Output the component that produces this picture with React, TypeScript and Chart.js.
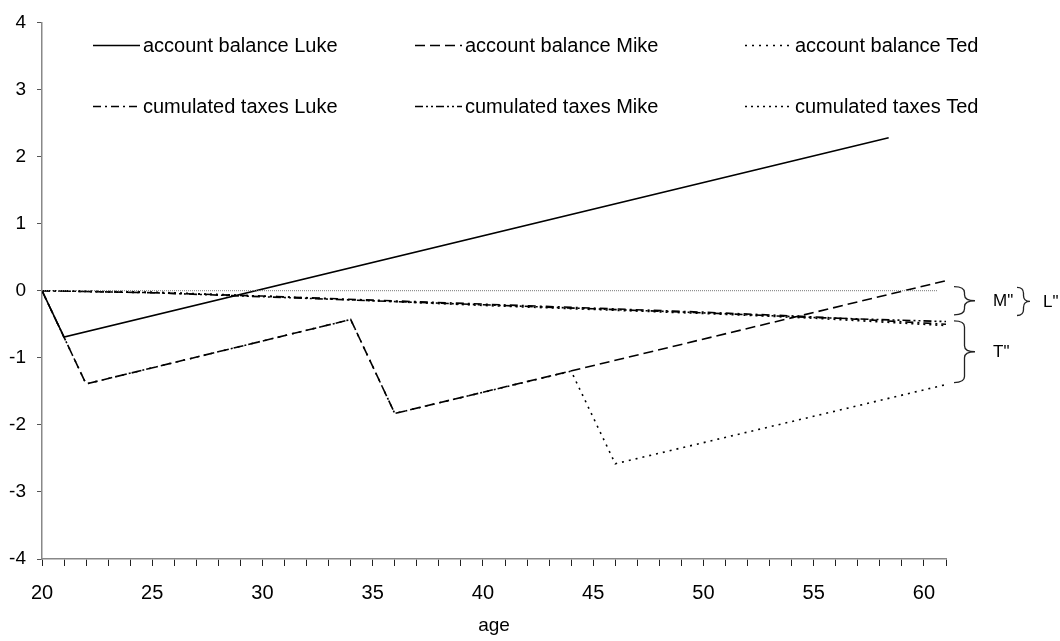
import React, { useEffect, useRef } from 'react';
import { Chart, registerables } from 'chart.js';

Chart.register(...registerables);

// ---- data ----
const lukeAges = [20, 21, 58.4];
const lukeBalance = [0, -0.69, 2.28];

const mikeAges = [20, 22, 34, 36, 61];
const mikeBalance = [0, -1.39, -0.43, -1.83, 0.15];

const tedAges = [20, 22, 34, 36, 44, 46, 61];
const tedBalance = [0, -1.39, -0.43, -1.83, -1.2, -2.58, -1.4];

const taxAges = [20, 25, 30, 35, 40, 45, 50, 55, 61];
const taxLuke = [0, -0.03, -0.08, -0.14, -0.2, -0.26, -0.32, -0.39, -0.5];
const taxMike = [0, -0.03, -0.09, -0.15, -0.21, -0.27, -0.33, -0.4, -0.46];
const taxTed = [0, -0.02, -0.08, -0.15, -0.22, -0.28, -0.34, -0.41, -0.52];

const zeroAges = [20, 60.6];
const zeroValues = [0, 0];

const xLabelAges = [20, 25, 30, 35, 40, 45, 50, 55, 60];

const seriesNames = [
  'account balance Luke',
  'account balance Mike',
  'account balance Ted',
  'cumulated taxes Luke',
  'cumulated taxes Mike',
  'cumulated taxes Ted',
];

const braceLabels = ['M"', 'L"', 'T"'];
const braceTop = [0.06, 0.05, -0.45];
const braceBottom = [-0.36, -0.37, -1.37];

const FONT = '"Liberation Sans", Arial, Helvetica, sans-serif';

const pts = (xs: number[], ys: number[]) => xs.map((x, i) => ({ x, y: ys[i] }));

const dashes: number[][] = [[], [10, 5], [2, 5], [8, 4, 2, 4], [8, 3, 2, 3, 2, 3], [2, 4]];

function drawBrace(ctx: CanvasRenderingContext2D, x: number, top: number, bottom: number, w: number) {
  const mid = (top + bottom) / 2;
  const xm = x + w * 0.5;
  const r = Math.min(6, (bottom - top) / 4);
  ctx.beginPath();
  ctx.moveTo(x, top);
  ctx.quadraticCurveTo(xm, top, xm, top + r);
  ctx.lineTo(xm, mid - r);
  ctx.quadraticCurveTo(xm, mid, x + w, mid);
  ctx.quadraticCurveTo(xm, mid, xm, mid + r);
  ctx.lineTo(xm, bottom - r);
  ctx.quadraticCurveTo(xm, bottom, x, bottom);
  ctx.stroke();
}

const overlayPlugin = {
  id: 'overlay',
  afterDraw(chart: any) {
    const ctx = chart.ctx as CanvasRenderingContext2D;
    const area = chart.chartArea;
    const ys = chart.scales.y;
    ctx.save();
    // legend
    const colX = [93, 415, 745];
    const rowY = [45, 106];
    ctx.font = `20px ${FONT}`;
    ctx.textBaseline = 'middle';
    ctx.textAlign = 'left';
    ctx.fillStyle = '#000';
    seriesNames.forEach((name, i) => {
      const cx = colX[i % 3];
      const cy = rowY[Math.floor(i / 3)];
      ctx.strokeStyle = '#000';
      ctx.lineWidth = 1.6;
      ctx.setLineDash(dashes[i]);
      ctx.beginPath();
      ctx.moveTo(cx, cy + 0.5);
      ctx.lineTo(cx + 47, cy + 0.5);
      ctx.stroke();
      ctx.setLineDash([]);
      ctx.fillText(name, cx + 50, cy + 1);
    });
    // braces
    const bx = [area.right + 8, area.right + 71, area.right + 8];
    const bw = [21, 13, 21];
    const lx = [area.right + 47, area.right + 97, area.right + 47];
    ctx.strokeStyle = '#222';
    ctx.lineWidth = 1.3;
    ctx.font = `17px ${FONT}`;
    braceLabels.forEach((lab, i) => {
      const t = ys.getPixelForValue(braceTop[i]);
      const b = ys.getPixelForValue(braceBottom[i]);
      drawBrace(ctx, bx[i], t, b, bw[i]);
      ctx.fillText(lab, lx[i], (t + b) / 2 + 1);
    });
    ctx.restore();
  },
};

export default function App() {
  const ref = useRef<HTMLCanvasElement | null>(null);
  useEffect(() => {
    document.body.style.margin = '0';
    const canvas = ref.current;
    if (!canvas) return;
    const common = { borderColor: '#000', borderWidth: 1.6, pointRadius: 0, fill: false, tension: 0 };
    const chart = new Chart(canvas, {
      type: 'line',
      data: {
        datasets: [
          { label: 'zero', data: pts(zeroAges, zeroValues), borderColor: '#777', borderWidth: 1, borderDash: [1, 1], pointRadius: 0 },
          { label: seriesNames[3], data: pts(taxAges, taxLuke), ...common, borderDash: dashes[3] },
          { label: seriesNames[4], data: pts(taxAges, taxMike), ...common, borderDash: dashes[4] },
          { label: seriesNames[5], data: pts(taxAges, taxTed), ...common, borderDash: dashes[5] },
          { label: seriesNames[2], data: pts(tedAges, tedBalance), ...common, borderDash: dashes[2] },
          { label: seriesNames[1], data: pts(mikeAges, mikeBalance), ...common, borderDash: dashes[1] },
          { label: seriesNames[0], data: pts(lukeAges, lukeBalance), ...common, borderDash: dashes[0] },
        ] as any,
      },
      options: {
        animation: false,
        responsive: false,
        maintainAspectRatio: false,
        layout: { padding: { top: 18, right: 114, left: 0, bottom: 0 } },
        plugins: { legend: { display: false }, tooltip: { enabled: false }, title: { display: false } },
        scales: {
          x: {
            type: 'linear',
            min: 20,
            max: 61,
            border: { color: '#888', width: 1.5 },
            grid: { drawOnChartArea: false, drawTicks: true, tickLength: 7, tickColor: '#222', lineWidth: 1 },
            ticks: {
              stepSize: 1,
              autoSkip: false,
              maxRotation: 0,
              padding: 15,
              color: '#000',
              font: { family: FONT, size: 20 },
              callback: (v: any) => (xLabelAges.includes(Number(v)) ? String(v) : ''),
            },
            title: { display: true, text: 'age', color: '#000', font: { family: FONT, size: 19 }, padding: { top: 0, bottom: 4 } },
            afterFit: (s: any) => { s.height = 82; },
          },
          y: {
            type: 'linear',
            min: -4,
            max: 4,
            border: { color: '#888', width: 1.5 },
            grid: { drawOnChartArea: false, drawTicks: true, tickLength: 5, tickColor: '#555' },
            ticks: { stepSize: 1, padding: 11, color: '#000', font: { family: FONT, size: 19 } },
            afterFit: (s: any) => { s.width = 42; },
          },
        },
      } as any,
      plugins: [overlayPlugin],
    });
    return () => chart.destroy();
  }, []);
  return (
    <div style={{ width: 1060, height: 641 }}>
      <canvas ref={ref} width={1060} height={641} style={{ display: 'block' }} />
    </div>
  );
}
